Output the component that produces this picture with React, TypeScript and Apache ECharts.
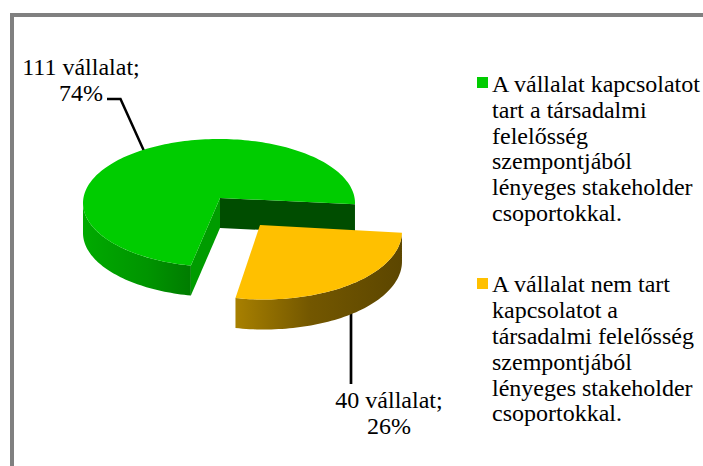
import React, { useEffect, useRef } from "react";
import * as echarts from "echarts";

const companyCounts = [111, 40];
const percentLabels = ["74%", "26%"];
const countLabels = ["111 vállalat;", "40 vállalat;"];
const legendLines = [
  ["A vállalat kapcsolatot", "tart a társadalmi", "felelősség", "szempontjából", "lényeges stakeholder", "csoportokkal."],
  ["A vállalat nem tart", "kapcsolatot a", "társadalmi felelősség", "szempontjából", "lényeges stakeholder", "csoportokkal."],
];
const sliceColors = ["#00cc00", "#ffc000"];

const FONT = '"Liberation Serif", "Times New Roman", serif';
const FONT_SIZE = 24;
const LINE_H = 25.8;
const DEPTH = 30;
const START_ANGLE = 1;
const PERSPECTIVE = 5.6;

const geometry: any[] = [
  {
    cx: 219, cy: 203, rx: 136, ry: 64, px: 220, py: 198,
    wall: [[0, "#00aa00"], [0.6, "#009400"], [1, "#007c00"]],
    faceA: "#004d00", faceB: "#009c00",
  },
  {
    cx: 264, cy: 231.5, rx: 138, ry: 68, px: 260, py: 225,
    wall: [[0, "#a88000"], [0.45, "#735700"], [1, "#5c4600"]],
  },
];

const rad = (d: number) => (d * Math.PI) / 180;
const warp = (d: number) => d + PERSPECTIVE * Math.sin(rad(d));

function arcPoints(g: any, from: number, to: number, dy = 0) {
  const pts: number[][] = [];
  const n = Math.max(2, Math.ceil(Math.abs(to - from) / 1.5));
  for (let i = 0; i <= n; i++) {
    const p = rad(warp(from + ((to - from) * i) / n));
    pts.push([g.cx + g.rx * Math.cos(p), g.cy + g.ry * Math.sin(p) + dy]);
  }
  return pts;
}

function renderSlice(params: any, api: any) {
  const i = params.dataIndex;
  const total = companyCounts.reduce((a, b) => a + b, 0);
  const before = companyCounts.slice(0, i).reduce((a, b) => a + b, 0);
  const start = START_ANGLE - (before / total) * 360;
  const end = start - (api.value(0) / total) * 360;
  const g = geometry[i];
  const children: any[] = [];

  // Front wall: the part of the rim that lies between 0 and 180 degrees
  const wallFrom = i === 0 ? end + 360 : START_ANGLE;
  const wallTo = i === 0 ? 180 : start + 360;
  const top = arcPoints(g, wallFrom, wallTo);
  const bottom = arcPoints(g, wallFrom, wallTo, DEPTH).reverse();
  children.push({
    type: "polygon",
    shape: { points: top.concat(bottom) },
    style: {
      fill: new echarts.graphic.LinearGradient(
        0, 0, 1, 0,
        g.wall.map((s: any) => ({ offset: s[0], color: s[1] }))
      ),
    },
  });

  const arc = arcPoints(g, start, end);
  if (g.faceA) {
    const a = arc[0];
    const b = arc[arc.length - 1];
    children.push({
      type: "polygon",
      shape: { points: [[g.px, g.py], a, [a[0], a[1] + DEPTH], [g.px, g.py + DEPTH]] },
      style: { fill: g.faceA },
    });
    children.push({
      type: "polygon",
      shape: { points: [[g.px, g.py], b, [b[0], b[1] + DEPTH], [g.px, g.py + DEPTH]] },
      style: { fill: g.faceB },
    });
  }
  children.push({
    type: "polygon",
    shape: { points: [[g.px, g.py]].concat(arc) },
    style: { fill: sliceColors[i] },
  });
  return { type: "group", children };
}

const textEl = (text: string, x: number, y: number, align: string = "left") => ({
  type: "text",
  x,
  y,
  silent: true,
  style: {
    text,
    fill: "#000",
    font: `${FONT_SIZE}px ${FONT}`,
    lineHeight: LINE_H,
    align,
    verticalAlign: "top",
  },
});

const legendPos = [
  { box: [477, 77], text: [492, 71] },
  { box: [477, 278], text: [492, 271.5] },
];

export default function App() {
  const ref = useRef<HTMLDivElement>(null);
  useEffect(() => {
    document.body.style.margin = "0";
    const chart = echarts.init(ref.current!, undefined, { renderer: "svg" });
    chart.setOption({
      animation: false,
      backgroundColor: "#ffffff",
      series: [
        {
          type: "custom",
          coordinateSystem: "none",
          silent: true,
          renderItem: renderSlice,
          data: companyCounts.map((v) => [v]),
        },
      ],
      graphic: [
        { type: "rect", shape: { x: 10, y: 13, width: 693, height: 4 }, style: { fill: "#808080" } },
        { type: "rect", shape: { x: 10, y: 13, width: 4, height: 453 }, style: { fill: "#808080" } },
        {
          type: "polyline",
          shape: { points: [[107, 99], [120.5, 99], [144, 151]] },
          style: { stroke: "#000", lineWidth: 2.5, fill: "none" },
        },
        {
          type: "line",
          shape: { x1: 351, y1: 313, x2: 351, y2: 384 },
          style: { stroke: "#000", lineWidth: 2.7 },
        },
        textEl(`${countLabels[0]}\n${percentLabels[0]}`, 81, 54.5, "center"),
        textEl(`${countLabels[1]}\n${percentLabels[1]}`, 389, 387, "center"),
        ...legendLines.flatMap((lines, i) => [
          {
            type: "rect",
            shape: { x: legendPos[i].box[0], y: legendPos[i].box[1], width: 11, height: 11 },
            style: { fill: sliceColors[i] },
          },
          textEl(lines.join("\n"), legendPos[i].text[0], legendPos[i].text[1]),
        ]),
      ],
    });
    return () => chart.dispose();
  }, []);
  return <div ref={ref} style={{ width: 703, height: 466 }} />;
}
